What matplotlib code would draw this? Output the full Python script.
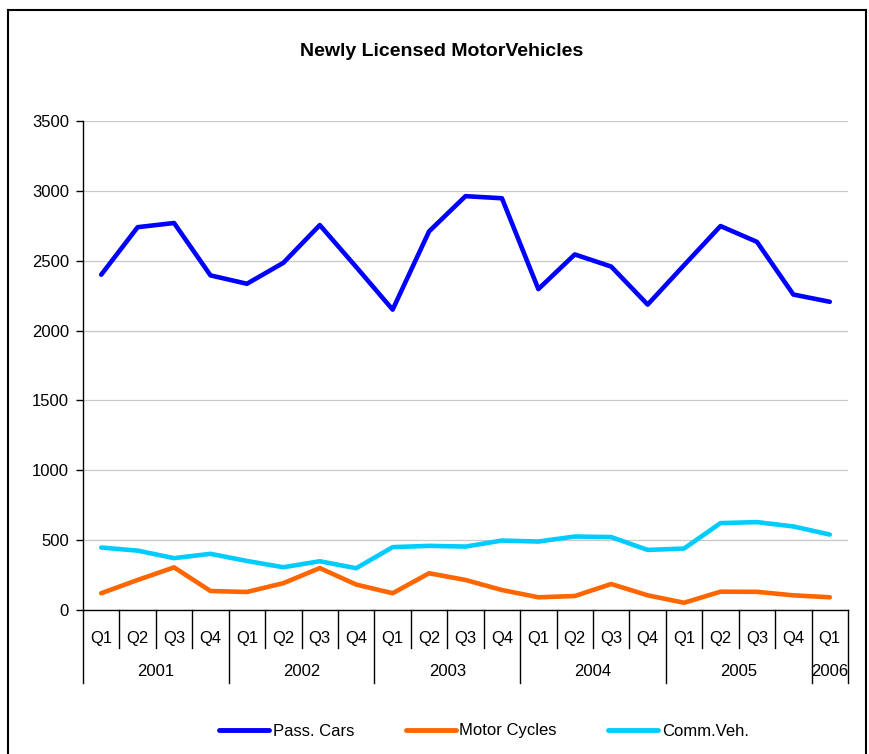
import matplotlib
matplotlib.use("Agg")
import matplotlib.pyplot as plt
from matplotlib.lines import Line2D

plt.rcParams['font.family'] = ['Liberation Sans', 'DejaVu Sans']

quarters = ["Q1", "Q2", "Q3", "Q4"] * 5 + ["Q1"]
years = ["2001", "2002", "2003", "2004", "2005", "2006"]
year_counts = [4, 4, 4, 4, 4, 1]

pass_cars = [2400, 2740, 2770, 2395, 2335, 2485, 2755, 2455, 2150, 2710, 2962,
             2947, 2297, 2545, 2458, 2186, 2468, 2748, 2635, 2258, 2206]
motor_cycles = [120, 215, 305, 136, 129, 192, 300, 182, 120, 263, 215,
                143, 91, 100, 186, 105, 52, 131, 130, 105, 91]
comm_veh = [447, 425, 371, 402, 351, 306, 349, 299, 450, 459, 454,
            497, 490, 526, 522, 430, 440, 622, 629, 598, 540]

W, H = 869, 754
fig = plt.figure(figsize=(W / 100, H / 100), dpi=100)
L, R, T, B = 83, 848, 121, 610
ax = fig.add_axes([L / W, 1 - B / H, (R - L) / W, (B - T) / H])

x = list(range(len(quarters)))
ax.plot(x, pass_cars, color='#0000FF', lw=3.3, label='Pass. Cars', solid_capstyle='round')
ax.plot(x, motor_cycles, color='#FF6600', lw=3.3, label='Motor Cycles', solid_capstyle='round')
ax.plot(x, comm_veh, color='#00CCFF', lw=3.3, label='Comm.Veh.', solid_capstyle='round')

ax.set_xlim(-0.5, len(x) - 0.5)
ax.set_ylim(0, 3500)
ax.set_yticks(range(0, 3501, 500))
ax.yaxis.grid(True, color='#c8c8c8', lw=0.9)
ax.set_axisbelow(True)
for s in ['top', 'right']:
    ax.spines[s].set_visible(False)
ax.spines['left'].set_linewidth(1.0)
ax.spines['bottom'].set_linewidth(1.0)
ax.tick_params(axis='y', direction='out', length=5, width=1, labelsize=12, pad=5)

ax.set_xticks(x)
ax.set_xticklabels(quarters, fontsize=12)
ax.tick_params(axis='x', length=0, pad=15)

xt = ax.get_xaxis_transform()
qlen = (648 - B) / (B - T)
ylen = (683 - B) / (B - T)
boundaries = []
pos = -0.5
for c in year_counts:
    boundaries.append(pos)
    pos += c
boundaries.append(pos)
for i in range(len(x) + 1):
    b = i - 0.5
    depth = ylen if b in boundaries else qlen
    ax.add_line(Line2D([b, b], [0, -depth], transform=xt, color='black', lw=1.0, clip_on=False))

for j, yr in enumerate(years):
    center = (boundaries[j] + boundaries[j + 1]) / 2
    ax.text(center, -(671 - B) / (B - T), yr, transform=xt, ha='center', va='center', fontsize=12)

fig.text(442 / W, 1 - 51 / H, 'Newly Licensed MotorVehicles', ha='center', va='center',
         fontsize=14, fontweight='bold')

leg = fig.legend(loc='center', bbox_to_anchor=(484 / W, 1 - 731 / H), ncol=3, frameon=False,
                 fontsize=12, handlelength=3.0, handletextpad=0.2, columnspacing=3.1)
for h in leg.get_lines():
    h.set_linewidth(3.5)

fx = lambda px: px / W
fy = lambda py: 1 - py / H
fig.add_artist(Line2D([fx(8), fx(8)], [fy(10), 0], color='black', lw=1.5))
fig.add_artist(Line2D([fx(8), fx(866)], [fy(10), fy(10)], color='black', lw=1.5))
fig.add_artist(Line2D([fx(866), fx(866)], [fy(10), 0], color='black', lw=1.5))

fig.savefig('out.png', dpi=100)
